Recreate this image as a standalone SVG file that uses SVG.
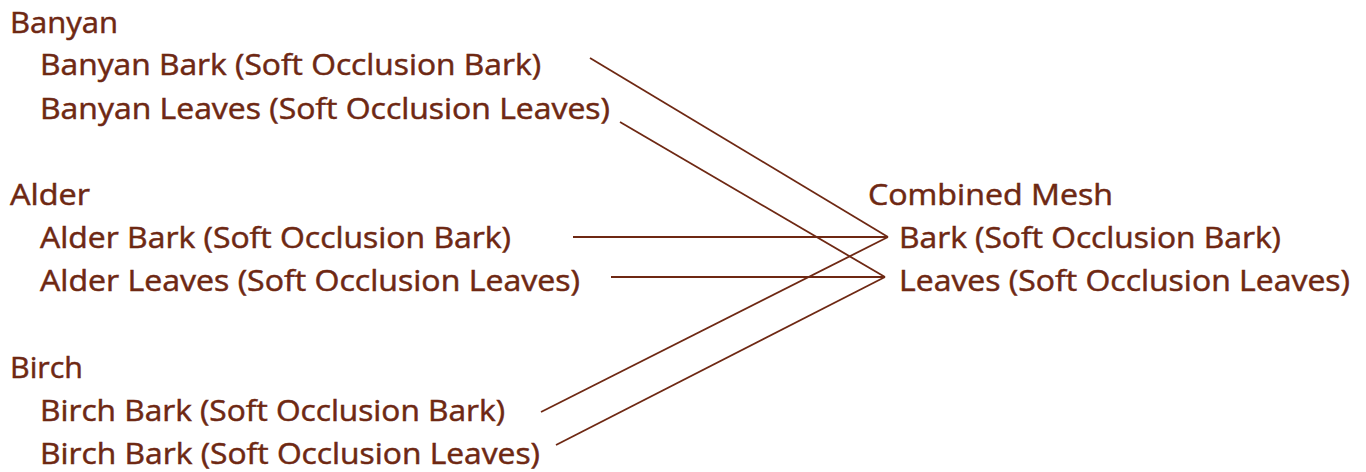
<svg xmlns="http://www.w3.org/2000/svg" width="1366" height="472" viewBox="0 0 1366 472">
<style>
text{font-family:"Open Sans","Noto Sans",sans-serif;font-size:30px;fill:#6e2813;stroke:#6e2813;stroke-width:0.5}
.c line{stroke:#6e2813;stroke-width:1.8;fill:none}
</style>
<rect width="1366" height="472" fill="#fff"/>
<g id="banyan">
<text x="10" y="33" textLength="108" lengthAdjust="spacingAndGlyphs">Banyan</text>
<text x="40" y="75" textLength="501" lengthAdjust="spacingAndGlyphs">Banyan Bark (Soft Occlusion Bark)</text>
<text x="40" y="119" textLength="570" lengthAdjust="spacingAndGlyphs">Banyan Leaves (Soft Occlusion Leaves)</text>
</g>
<g id="alder">
<text x="10" y="205" textLength="80" lengthAdjust="spacingAndGlyphs">Alder</text>
<text x="40" y="248" textLength="471" lengthAdjust="spacingAndGlyphs">Alder Bark (Soft Occlusion Bark)</text>
<text x="40" y="291" textLength="540" lengthAdjust="spacingAndGlyphs">Alder Leaves (Soft Occlusion Leaves)</text>
</g>
<g id="birch">
<text x="10" y="378" textLength="73" lengthAdjust="spacingAndGlyphs">Birch</text>
<text x="40" y="421" textLength="465" lengthAdjust="spacingAndGlyphs">Birch Bark (Soft Occlusion Bark)</text>
<text x="40" y="464" textLength="500" lengthAdjust="spacingAndGlyphs">Birch Bark (Soft Occlusion Leaves)</text>
</g>
<g id="combined">
<text x="868" y="205" textLength="245" lengthAdjust="spacingAndGlyphs">Combined Mesh</text>
<text x="899" y="248" textLength="382" lengthAdjust="spacingAndGlyphs">Bark (Soft Occlusion Bark)</text>
<text x="899" y="291" textLength="451" lengthAdjust="spacingAndGlyphs">Leaves (Soft Occlusion Leaves)</text>
</g>
<g id="connectors" class="c">
<line x1="590" y1="58" x2="888" y2="237"/>
<line x1="620" y1="122" x2="885" y2="277"/>
<line x1="573" y1="237" x2="888" y2="237"/>
<line x1="611" y1="277" x2="885" y2="277"/>
<line x1="541" y1="412" x2="888" y2="237"/>
<line x1="556" y1="445" x2="885" y2="277"/>
</g>
</svg>
